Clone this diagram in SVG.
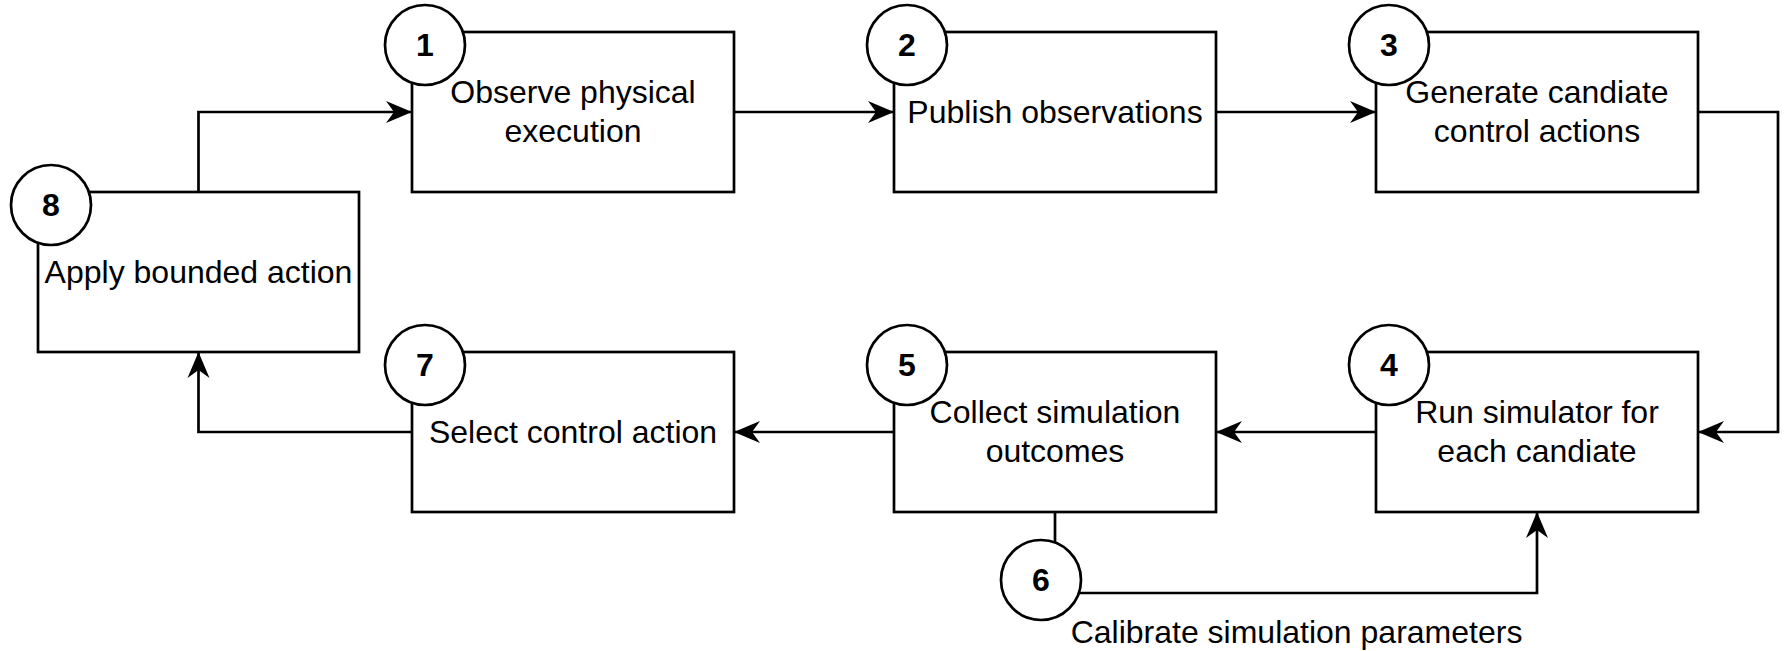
<svg xmlns="http://www.w3.org/2000/svg" width="1786" height="651" viewBox="0 0 1786 651">
  <style>
    .box { fill: #ffffff; stroke: #000000; stroke-width: 2.7; }
    .badge { fill: #ffffff; stroke: #000000; stroke-width: 2.7; }
    .label { font-family: "Liberation Sans", Arial, Helvetica, sans-serif; font-size: 32px; fill: #000000; text-anchor: middle; }
    .num { font-family: "Liberation Sans", Arial, Helvetica, sans-serif; font-size: 32px; font-weight: bold; fill: #000000; text-anchor: middle; }
    .edge { fill: none; stroke: #000000; stroke-width: 2.7; }
  </style>
  <defs>
    <marker id="arrow" markerUnits="userSpaceOnUse" markerWidth="28" markerHeight="26" viewBox="0 0 28 26" refX="27" refY="13" orient="auto">
      <path d="M1,2 L27,13 L1,24 L9,13 Z" fill="#000000"/>
    </marker>
  </defs>
  <rect width="1786" height="651" fill="#ffffff"/>

  <!-- connectors -->
  <g id="connectors">
    <path class="edge" d="M198.5,192 L198.5,112 L412,112" marker-end="url(#arrow)"/>
    <path class="edge" d="M734,112 L894,112" marker-end="url(#arrow)"/>
    <path class="edge" d="M1216,112 L1376,112" marker-end="url(#arrow)"/>
    <path class="edge" d="M1698,112 L1778,112 L1778,432 L1698,432" marker-end="url(#arrow)"/>
    <path class="edge" d="M1376,432 L1216,432" marker-end="url(#arrow)"/>
    <path class="edge" d="M894,432 L734,432" marker-end="url(#arrow)"/>
    <path class="edge" d="M412,432 L198.5,432 L198.5,352" marker-end="url(#arrow)"/>
    <path class="edge" d="M1055,512 L1055,543"/>
    <path class="edge" d="M1079,593 L1537,593 L1537,512" marker-end="url(#arrow)"/>
  </g>

  <!-- step 1 -->
  <g id="step1">
    <rect class="box" x="412" y="32" width="322" height="160"/>
    <circle class="badge" cx="425" cy="45" r="40"/>
    <text class="num" x="425" y="56">1</text>
    <text class="label" x="573" y="103">Observe physical</text>
    <text class="label" x="573" y="141.5">execution</text>
  </g>

  <!-- step 2 -->
  <g id="step2">
    <rect class="box" x="894" y="32" width="322" height="160"/>
    <circle class="badge" cx="907" cy="45" r="40"/>
    <text class="num" x="907" y="56">2</text>
    <text class="label" x="1055" y="123">Publish observations</text>
  </g>

  <!-- step 3 -->
  <g id="step3">
    <rect class="box" x="1376" y="32" width="322" height="160"/>
    <circle class="badge" cx="1389" cy="45" r="40"/>
    <text class="num" x="1389" y="56">3</text>
    <text class="label" x="1537" y="103">Generate candiate</text>
    <text class="label" x="1537" y="141.5">control actions</text>
  </g>

  <!-- step 4 -->
  <g id="step4">
    <rect class="box" x="1376" y="352" width="322" height="160"/>
    <circle class="badge" cx="1389" cy="365" r="40"/>
    <text class="num" x="1389" y="376">4</text>
    <text class="label" x="1537" y="423">Run simulator for</text>
    <text class="label" x="1537" y="461.5">each candiate</text>
  </g>

  <!-- step 5 -->
  <g id="step5">
    <rect class="box" x="894" y="352" width="322" height="160"/>
    <circle class="badge" cx="907" cy="365" r="40"/>
    <text class="num" x="907" y="376">5</text>
    <text class="label" x="1055" y="423">Collect simulation</text>
    <text class="label" x="1055" y="461.5">outcomes</text>
  </g>

  <!-- step 6 -->
  <g id="step6">
    <circle class="badge" cx="1041" cy="580" r="40"/>
    <text class="num" x="1041" y="591">6</text>
    <text class="label" x="1296.5" y="643">Calibrate simulation parameters</text>
  </g>

  <!-- step 7 -->
  <g id="step7">
    <rect class="box" x="412" y="352" width="322" height="160"/>
    <circle class="badge" cx="425" cy="365" r="40"/>
    <text class="num" x="425" y="376">7</text>
    <text class="label" x="573" y="443">Select control action</text>
  </g>

  <!-- step 8 -->
  <g id="step8">
    <rect class="box" x="38" y="192" width="321" height="160"/>
    <circle class="badge" cx="51" cy="205" r="40"/>
    <text class="num" x="51" y="216">8</text>
    <text class="label" x="198.5" y="283">Apply bounded action</text>
  </g>
</svg>
